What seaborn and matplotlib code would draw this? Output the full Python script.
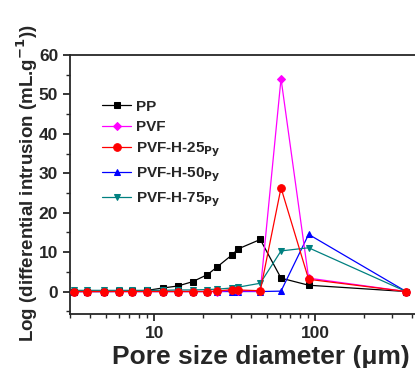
import numpy as np
import pandas as pd
import seaborn as sns
import matplotlib.pyplot as plt
from matplotlib.ticker import MultipleLocator, LogLocator, NullFormatter, FixedLocator

# Pore size (um) and differential intrusion
pore_size = [3.18, 3.85, 4.91, 6.0, 7.3, 9.05, 11.3, 14.0, 17.3, 21.4, 24.5,
             30.4, 33.1, 45.5, 61.2, 90.8, 366]
pp = [0, 0, 0, 0.05, 0.1, 0.3, 0.9, 1.4, 2.5, 4.3, 6.2, 9.3, 10.8, 13.2, 3.4, 1.6, 0]
pvf = [0, 0, 0, 0, 0, 0, 0, 0, 0, 0, 0, 0.3, 0.2, 0.1, 54.0, 3.4, 0]
pvf_25 = [0, 0, 0, 0, 0, 0, 0, 0, 0, 0, 0.1, 0.5, 0.4, 0.2, 26.3, 3.1, 0]
pvf_50 = [0, 0, 0, 0, 0, 0, 0, 0, 0, 0, 0, 0, 0, 0, 0.1, 14.5, 0]
pvf_75 = [0.3, 0.3, 0.3, 0.3, 0.3, 0.3, 0.3, 0.4, 0.4, 0.5, 0.6, 0.9, 1.1, 2.1, 10.3, 11.1, 0]

labels = ['PP', 'PVF', 'PVF-H-25$_{Py}$', 'PVF-H-50$_{Py}$', 'PVF-H-75$_{Py}$']
series = [pp, pvf, pvf_25, pvf_50, pvf_75]
colors = ['black', '#ff00ff', '#ff0000', '#0000ff', '#008080']
markers = ['s', 'D', 'o', '^', 'v']
msizes = [4.5, 4.5, 5.5, 5, 5]
zorders = [3, 4, 6, 3, 5]

sns.set_style('ticks')
plt.rcParams['font.family'] = ['Liberation Sans', 'DejaVu Sans']
plt.rcParams['font.weight'] = 'bold'
plt.rcParams['mathtext.default'] = 'bf'

fig = plt.figure(figsize=(4.15, 3.68), dpi=100)
ax = fig.add_axes([70 / 415, 54 / 368, 358 / 415, 259 / 368])

for lab, vals, c, m, ms, z in zip(labels, series, colors, markers, msizes, zorders):
    df = pd.DataFrame({'x': pore_size, 'y': vals})
    sns.lineplot(data=df, x='x', y='y', ax=ax, color=c, marker=m, markersize=ms,
                 markeredgecolor=c, linewidth=0.9, label=lab, zorder=z)

ax.set_xscale('log')
ax.set_xlim(3, 500)
ax.set_ylim(-5.7, 60)
ax.yaxis.set_major_locator(FixedLocator([0, 10, 20, 30, 40, 50, 60]))
ax.yaxis.set_minor_locator(MultipleLocator(5))
ax.xaxis.set_major_locator(FixedLocator([10, 100]))
ax.xaxis.set_major_formatter(plt.FuncFormatter(lambda v, p: f'{int(v)}'))
ax.xaxis.set_minor_locator(LogLocator(base=10, subs=np.arange(2, 10)))
ax.xaxis.set_minor_formatter(NullFormatter())

for s in ax.spines.values():
    s.set_linewidth(1.3)
ax.tick_params(which='major', direction='out', length=5, width=1.3, labelsize=12.5)
ax.tick_params(which='minor', direction='out', length=3, width=1.0)
for t in ax.get_xticklabels() + ax.get_yticklabels():
    t.set_fontweight('bold')

ax.set_xlabel('Pore size diameter (\u03bcm)', fontsize=19, fontweight='bold')
ax.xaxis.set_label_coords(0.533, -0.118)
ax.set_ylabel('')
fig.text(27 / 415, 1 - 342 / 368, 'Log (differential intrusion (mL.g$^{-1}$))',
         rotation=90, ha='center', va='bottom', fontsize=13.5, fontweight='bold')

leg = ax.legend(loc='upper left', bbox_to_anchor=(0.09, 0.828), frameon=False,
                prop={'weight': 'bold', 'size': 11}, handlelength=1.9,
                handletextpad=0.3, labelspacing=0.42, borderpad=0, borderaxespad=0)

fig.savefig('out.png', dpi=100)
